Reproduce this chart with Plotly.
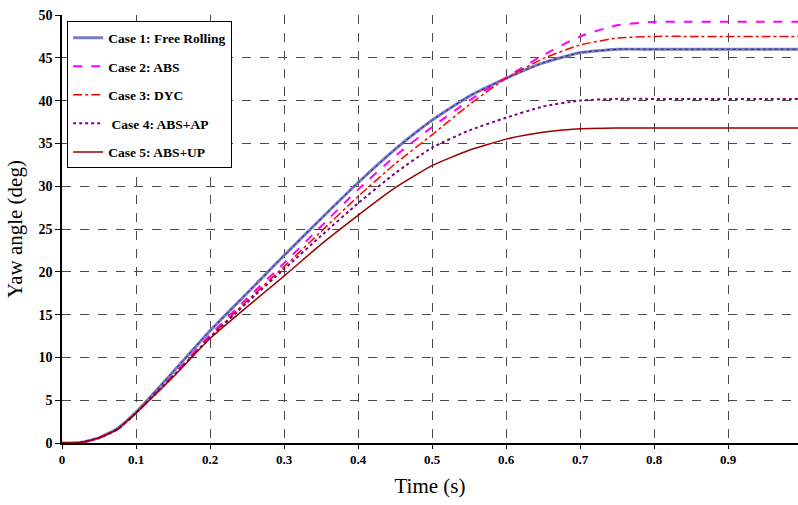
import plotly.graph_objects as go

t = [0, 0.025, 0.05, 0.075, 0.1, 0.15, 0.2, 0.25, 0.3, 0.35, 0.4, 0.45, 0.5,
     0.55, 0.6, 0.65, 0.7, 0.75, 0.8, 0.85, 0.9, 0.95, 1.0]

case1 = [0, 0.05, 0.6, 1.7, 3.6, 8.3, 13.1, 17.5, 21.9, 26.2, 30.4, 34.3, 37.7,
         40.5, 42.6, 44.4, 45.6, 46.0, 46.0, 46.0, 46.0, 46.0, 46.0]
case2 = [0, 0.05, 0.6, 1.6, 3.5, 7.9, 12.6, 16.9, 21.0, 25.3, 29.6, 33.5, 36.9,
         40.0, 42.7, 45.3, 47.5, 48.8, 49.2, 49.2, 49.2, 49.2, 49.2]
case3 = [0, 0.05, 0.6, 1.6, 3.5, 7.8, 12.4, 16.6, 20.6, 24.7, 28.8, 32.6, 36.0,
         39.5, 42.6, 44.9, 46.5, 47.3, 47.5, 47.5, 47.5, 47.5, 47.5]
case4 = [0, 0.05, 0.6, 1.6, 3.5, 7.8, 12.3, 16.4, 20.3, 24.2, 28.0, 31.5, 34.5,
         36.5, 38.0, 39.3, 40.0, 40.2, 40.2, 40.2, 40.2, 40.2, 40.2]
case5 = [0, 0.05, 0.6, 1.6, 3.5, 7.7, 12.2, 15.9, 19.5, 23.2, 26.6, 29.8, 32.4,
         34.2, 35.5, 36.3, 36.7, 36.8, 36.8, 36.8, 36.8, 36.8, 36.8]

names = ["Case 1: Free Rolling", "Case 2: ABS", "Case 3: DYC",
         " Case 4: ABS+AP", "Case 5: ABS+UP"]
x_ticks = [0, 0.1, 0.2, 0.3, 0.4, 0.5, 0.6, 0.7, 0.8, 0.9]
x_labels = ["0", "0.1", "0.2", "0.3", "0.4", "0.5", "0.6", "0.7", "0.8", "0.9"]
y_ticks = [0, 5, 10, 15, 20, 25, 30, 35, 40, 45, 50]

fig = go.Figure()
sp = dict(shape="spline", smoothing=0.5)
fig.add_trace(go.Scatter(x=t, y=case1, name=names[0], mode="lines", legendgroup="g1",
                         line=dict(color="#7A7CC2", width=3, **sp)))
fig.add_trace(go.Scatter(x=t, y=case1, name=names[0], mode="lines", legendgroup="g1",
                         showlegend=False,
                         line=dict(color="#1A237E", width=1, dash="dot", **sp)))
fig.add_trace(go.Scatter(x=t, y=case2, name=names[1], mode="lines", legendgroup="g2",
                         line=dict(color="#FF00FF", width=2, dash="dash", **sp)))
fig.add_trace(go.Scatter(x=t, y=case3, name=names[2], mode="lines", legendgroup="g3",
                         line=dict(color="#FF0000", width=1.5, dash="dashdot", **sp)))
fig.add_trace(go.Scatter(x=t, y=case4, name=names[3], mode="lines", legendgroup="g4",
                         line=dict(color="#800080", width=2, dash="dot", **sp)))
fig.add_trace(go.Scatter(x=t, y=case5, name=names[4], mode="lines", legendgroup="g5",
                         line=dict(color="#990000", width=1.5, **sp)))

fig.update_layout(
    width=798, height=505,
    margin=dict(l=62, r=0, t=15, b=62),
    paper_bgcolor="white", plot_bgcolor="white",
    font=dict(family="Liberation Serif", color="black"),
    showlegend=True,
    legend=dict(x=0.007, y=0.985, xanchor="left", yanchor="top",
                bgcolor="white", bordercolor="black", borderwidth=1,
                font=dict(family="Liberation Serif", size=13.5, color="black", weight="bold"),
                traceorder="grouped", tracegroupgap=8),
    xaxis=dict(range=[0, 0.9946], tickvals=x_ticks, ticktext=x_labels,
               showgrid=True, gridcolor="#4a4a4a", griddash="dash", gridwidth=1,
               zeroline=False, showline=True, linecolor="black", linewidth=1.5,
               ticks="outside", ticklen=4, tickcolor="black",
               tickfont=dict(size=13, family="Liberation Serif", weight="bold"),
               title=dict(text="Time (s)", font=dict(size=21, family="Liberation Serif"),
                          standoff=12)),
    yaxis=dict(range=[0, 50], tickvals=y_ticks,
               showgrid=True, gridcolor="#4a4a4a", griddash="dash", gridwidth=1,
               zeroline=False, showline=True, linecolor="black", linewidth=1.5,
               ticks="outside", ticklen=5, tickcolor="black",
               tickfont=dict(size=14, family="Liberation Serif", weight="bold"),
               title=dict(text="Yaw angle (deg)", font=dict(size=21, family="Liberation Serif"),
                          standoff=10)),
)

fig.write_html("out.html")
